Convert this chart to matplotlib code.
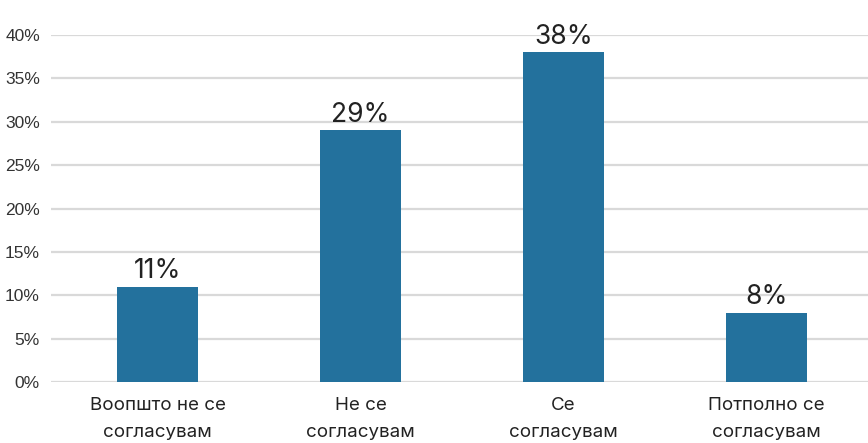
import matplotlib
matplotlib.use("Agg")
import matplotlib.pyplot as plt
from matplotlib.ticker import PercentFormatter

# survey answers and their shares (%)
categories = ["Воопшто не се\nсогласувам", "Не се\nсогласувам", "Се\nсогласувам", "Потполно се\nсогласувам"]
shares = [11, 29, 38, 8]
yticks = [0, 5, 10, 15, 20, 25, 30, 35, 40]

bar_color = "#23719d"
grid_color = "#d9d9d9"

fig = plt.figure(figsize=(8.68, 4.43), dpi=100)
ax = fig.add_axes([51 / 868, 1 - 382 / 443, 1 - 51 / 868, 347 / 443])

x = range(len(categories))
bars = ax.bar(x, shares, width=0.395, color=bar_color, zorder=3)

for b, v in zip(bars, shares):
    ax.annotate(f"{v}%", (b.get_x() + b.get_width() / 2, v),
                xytext=(0, 2), textcoords="offset points",
                ha="center", va="bottom", fontsize=19, family="Inter",
                color="#222222", clip_on=False, zorder=4)

ax.set_ylim(0, 40)
ax.set_xlim(-0.5 - 5 / 203, 3.5)
ax.set_yticks(yticks)
ax.yaxis.set_major_formatter(PercentFormatter(decimals=0))
ax.grid(axis="y", color=grid_color, linewidth=1.6, zorder=0)
ax.set_axisbelow(True)

ax.set_xticks(list(x))
ax.set_xticklabels(categories, fontsize=13.5, family="Inter",
                   color="#222222", linespacing=1.75)
for lbl in ax.get_yticklabels():
    lbl.set_family("Liberation Sans")
    lbl.set_fontsize(12.5)
    lbl.set_color("#333333")
ax.tick_params(axis="both", length=0)
ax.tick_params(axis="y", pad=8)
ax.tick_params(axis="x", pad=11)

for s in ax.spines.values():
    s.set_visible(False)

fig.savefig("out.png", dpi=100)
